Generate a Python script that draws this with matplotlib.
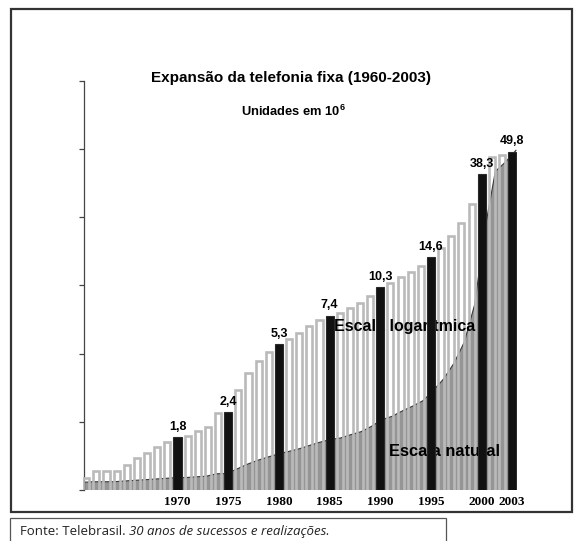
import numpy as np
import matplotlib
matplotlib.use("Agg")
import matplotlib.pyplot as plt
from matplotlib.patches import Rectangle

# Fixed lines in service, millions (1961-2003)
years = np.arange(1961, 2004)
lines_mi = [1.12, 1.21, 1.21, 1.21, 1.31, 1.41, 1.50, 1.60, 1.70, 1.8,
            1.82, 1.93, 2.02, 2.38, 2.4, 3.10, 3.79, 4.36, 4.84, 5.3,
            5.66, 6.04, 6.53, 7.0, 7.4, 7.62, 8.11, 8.55, 9.33, 10.3,
            10.8, 11.6, 12.3, 13.1, 14.6, 16.3, 18.6, 21.7, 27.2, 38.3,
            46.7, 48.1, 49.8]

# highlighted years get a black bar and a value label
highlight_years = [1970, 1975, 1980, 1985, 1990, 1995, 2000, 2003]
highlight_labels = ["1,8", "2,4", "5,3", "7,4", "10,3", "14,6", "38,3", "49,8"]
tick_years = [1970, 1975, 1980, 1985, 1990, 1995, 2000, 2003]

W, H = 576, 541
fig = plt.figure(figsize=(W / 100, H / 100), dpi=100)
plt.rcParams["mathtext.fontset"] = "custom"
plt.rcParams["mathtext.bf"] = "Liberation Sans:bold"


def fx(px):
    return px / W


def fy(py):
    return 1 - py / H


# natural scale axis (area)
ax = fig.add_axes([fx(83.5), fy(490), fx(517.2) - fx(83.5), fy(80.7) - fy(490)])
ax.set_xlim(1960.73, 2003.5)
ax.set_ylim(0, 60)

vals = np.array(lines_mi)
area_x = np.linspace(years[0] - 0.38, years[-1] + 0.38, len(years))
ax.fill_between(area_x, 0, vals, facecolor="#959595", edgecolor="none", zorder=1)
ax.plot(area_x, vals, color="#3a3a3a", lw=0.8, zorder=1.5)

for s in ["top", "right", "bottom"]:
    ax.spines[s].set_visible(False)
ax.spines["left"].set_color("#444444")
ax.spines["left"].set_linewidth(0.9)
ax.set_yticks(np.arange(0, 61, 10))
ax.set_yticklabels([])
ax.tick_params(axis="y", direction="out", length=3.5, width=0.9, color="#444444")
ax.set_xticks(tick_years)
ax.set_xticklabels([str(y) for y in tick_years], fontfamily="Liberation Serif",
                   fontweight="bold", fontsize=9.5)
ax.tick_params(axis="x", length=0, pad=4)

# logarithmic scale axis (bars)
ax2 = ax.twinx()
ax2.set_xlim(ax.get_xlim())
for s in ax2.spines.values():
    s.set_visible(False)
ax2.set_yscale("log")
ax2.set_ylim(0.975, 113.4)
ax2.set_yticks([])
ax2.minorticks_off()
ax2.tick_params(axis="y", which="both", length=0, labelright=False)

base = 0.5
is_hl = np.isin(years, highlight_years)
ax2.bar(years[~is_hl], vals[~is_hl] - base, width=0.6, bottom=base, facecolor="none",
        edgecolor="#bababa", linewidth=1.9, zorder=2)
ax2.bar(years[is_hl], vals[is_hl] - base, width=0.8, bottom=base, facecolor="#111111",
        edgecolor="#2a2a2a", linewidth=0.8, zorder=4)

for yr, lab in zip(highlight_years, highlight_labels):
    v = vals[years == yr][0]
    ax2.annotate(lab, (yr, v), xytext=(0, 3), textcoords="offset points",
                 ha="center", va="bottom", fontsize=9, fontweight="bold",
                 fontfamily="Liberation Sans", zorder=5)

ax2.text(1985.45, 6.5, "Escala logarítmica", fontsize=11.5, fontweight="bold",
         fontfamily="Liberation Sans", va="center", ha="left", zorder=3)
ax2.text(1990.9, 1.53, "Escala natural", fontsize=11.8, fontweight="bold",
         fontfamily="Liberation Sans", va="center", ha="left", zorder=3)

fig.text(fx(291), fy(78), "Expansão da telefonia fixa (1960-2003)", ha="center",
         va="center", fontsize=11, fontweight="bold", fontfamily="Liberation Sans")
fig.text(fx(293), fy(111), r"Unidades em $\mathbf{10^{6}}$", ha="center",
         va="center", fontsize=9.3, fontweight="bold", fontfamily="Liberation Sans")

# outer frame and source box
fig.patches.append(Rectangle((fx(11), fy(512)), fx(572) - fx(11), fy(9) - fy(512),
                             transform=fig.transFigure, fill=False,
                             edgecolor="#333333", linewidth=1.6))
fig.patches.append(Rectangle((fx(10), fy(548)), fx(446) - fx(10), fy(518) - fy(548),
                             transform=fig.transFigure, fill=False,
                             edgecolor="#555555", linewidth=0.9))

src = fig.text(fx(20), fy(535), "Fonte: Telebrasil. ", ha="left", va="baseline",
               fontsize=9.5, fontfamily="Open Sans", color="#222222")
fig.canvas.draw()
bb = src.get_window_extent(fig.canvas.get_renderer())
fig.text(bb.x1 / W, fy(535), "30 anos de sucessos e realizações.", ha="left",
         va="baseline", fontsize=9.5, fontfamily="Open Sans", style="italic",
         color="#222222")

fig.savefig("out.png", dpi=100)
